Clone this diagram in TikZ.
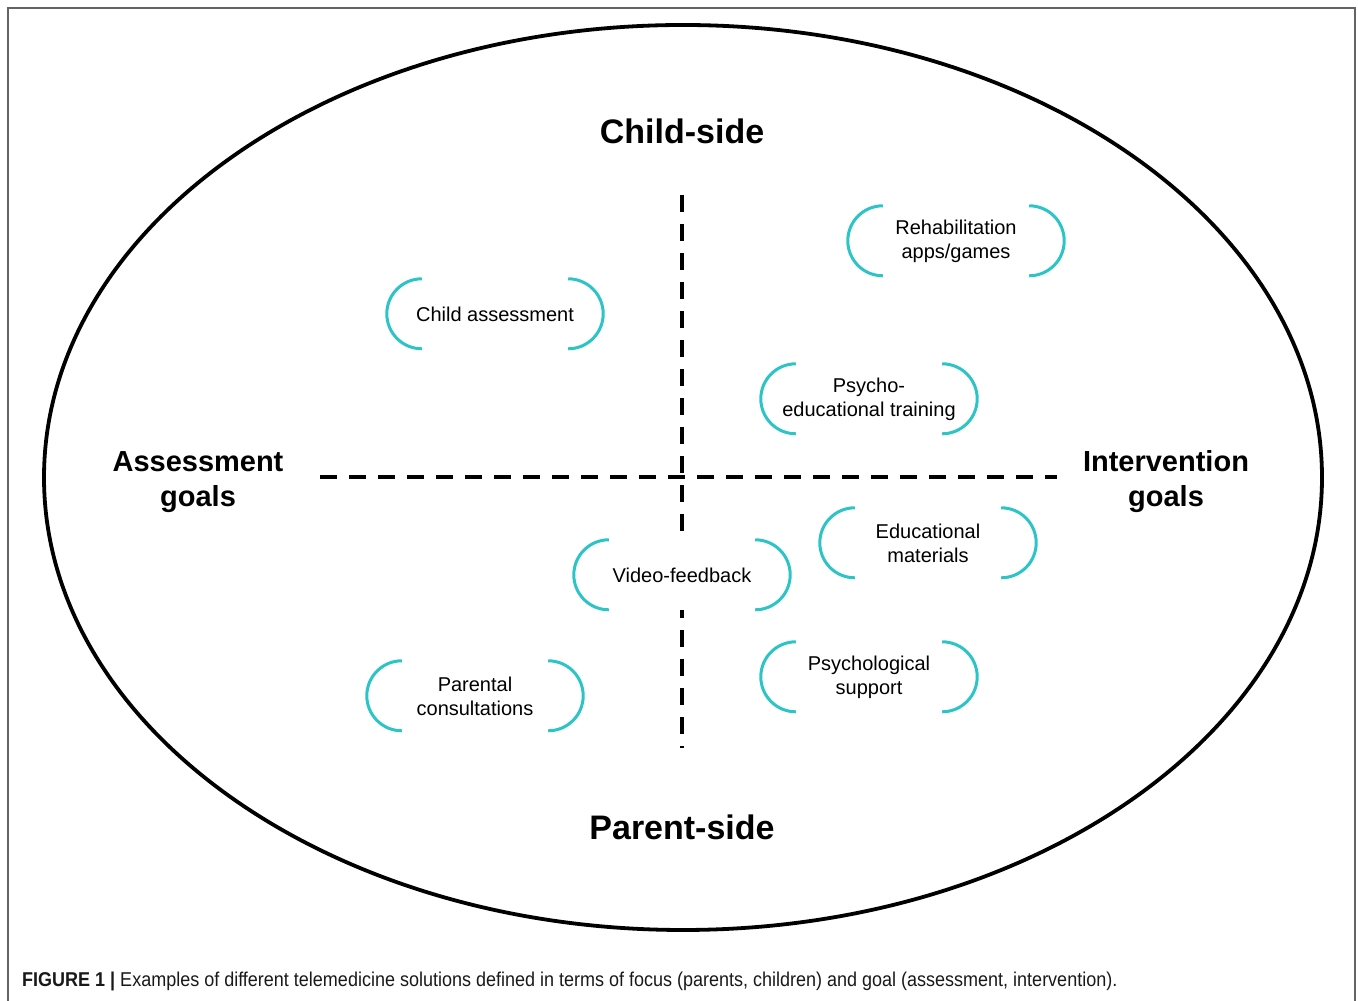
\documentclass[tikz,border=0pt]{standalone}
\usepackage{fontspec}
\usetikzlibrary{shapes.geometric}
\setmainfont{Liberation Sans}
\newfontfamily\capfont[FakeStretch=0.9]{Liberation Sans}
\definecolor{teal1}{RGB}{44,196,198}
\definecolor{framegray}{RGB}{100,100,100}
\begin{document}
\begin{tikzpicture}[x=1pt,y=1pt,
  bubble/.style={minimum width=216pt, minimum height=70pt, inner sep=0pt, fill=white,
     align=center, font=\fontsize{20}{24}\selectfont},
  brk/.style={draw=teal1, line width=3pt},
  dashln/.style={line width=3.5pt, dash pattern=on 17pt off 12pt},
  title/.style={font=\fontsize{34}{40}\selectfont\bfseries, align=center},
  side/.style={font=\fontsize{29}{35}\selectfont\bfseries, align=center}]
\useasboundingbox (0,0) rectangle (1358,1001);
\draw[framegray, line width=1.6pt] (8,0) -- (8,993) -- (1355,993) -- (1355,0);
\node[draw, line width=3.8pt, ellipse, minimum width=1278pt, minimum height=905pt, inner sep=0pt] (ell) at (683,523.5) {};
\coordinate (vt) at (682,806);
\coordinate (vb) at (682,253);
\coordinate (hl) at (320,524);
\coordinate (hr) at (1057,524);
\draw[dashln] (vt) -- (vb);
\draw[dashln] (hl) -- (hr);
\node[title] (child) at (682,870) {Child-side};
\node[title] (parent) at (682,174) {Parent-side};
\node[side] (assess) at (198,519) {Assessment\\goals};
\node[side] (interv) at (1166,519) {Intervention\\goals};
\node[bubble] (b1) at (495,687) {Child assessment};
\node[bubble] (b2) at (956,760) {Rehabilitation\\apps/games};
\node[bubble] (b3) at (869,602) {Psycho-\\educational training};
\node[bubble] (b4) at (928,458) {Educational\\materials};
\node[bubble] (b5) at (682,426) {Video-feedback};
\node[bubble] (b6) at (475,305) {Parental\\consultations};
\node[bubble] (b7) at (869,324) {Psychological\\support};
\foreach \n in {b1,b2,b3,b4,b5,b6,b7}{
  \draw[brk] ([xshift=35pt]\n.north west) arc[start angle=90, end angle=270, radius=35pt];
  \draw[brk] ([xshift=-35pt]\n.north east) arc[start angle=90, end angle=-90, radius=35pt];
}
\node[anchor=west, inner sep=0pt, font=\capfont\fontsize{20}{22}\selectfont, text=black!90] (cap) at (22,20)
  {\textbf{FIGURE 1 |} Examples of different telemedicine solutions defined in terms of focus (parents, children) and goal (assessment, intervention).};
\end{tikzpicture}
\end{document}
